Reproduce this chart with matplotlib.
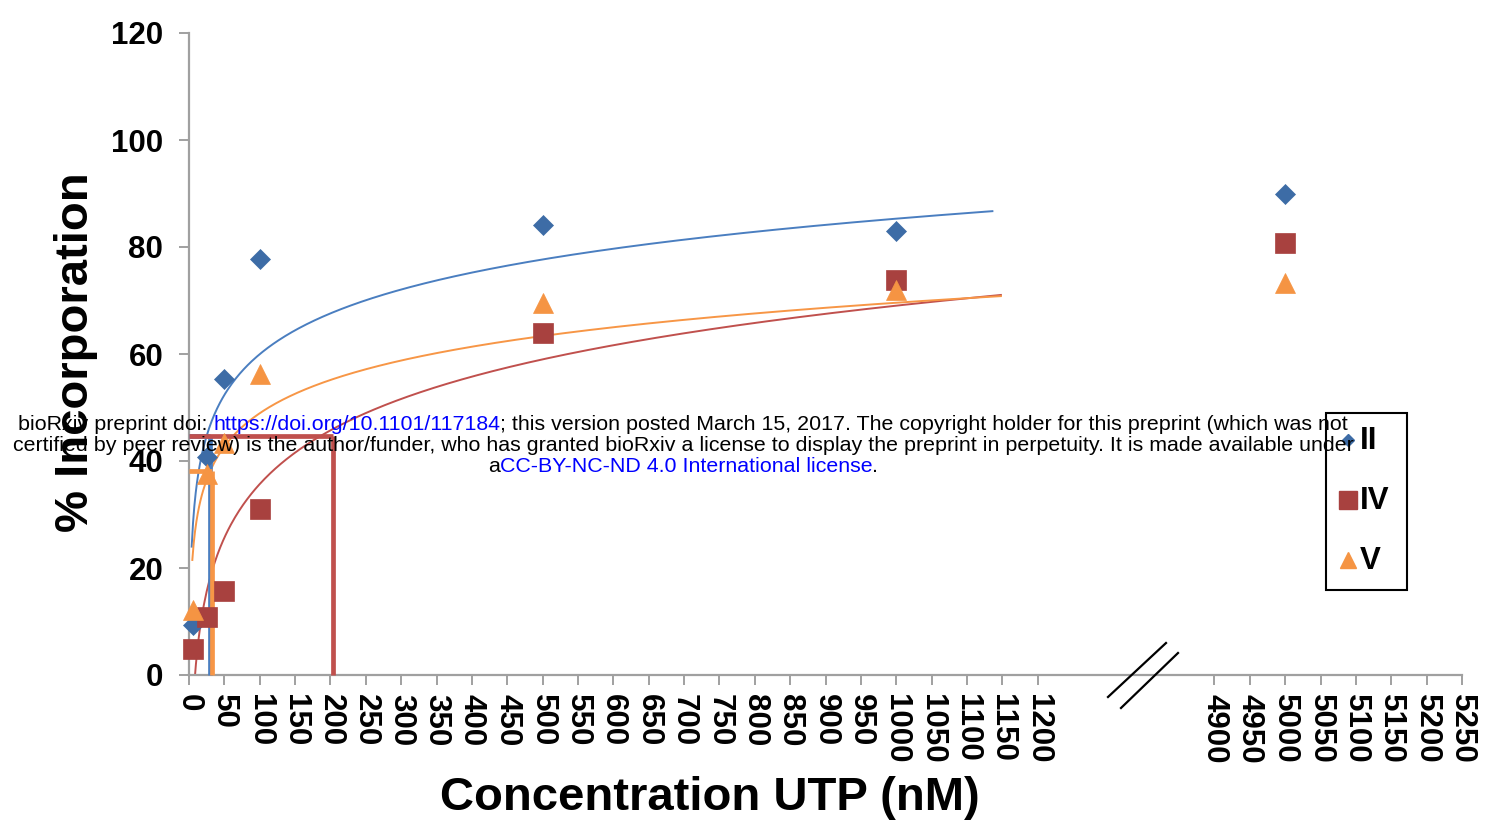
import numpy as np
import matplotlib
matplotlib.use("Agg")
import matplotlib.pyplot as plt
from matplotlib.lines import Line2D
from matplotlib.patches import Rectangle

plt.rcParams['font.family'] = ['Liberation Sans', 'DejaVu Sans']

# ---- data -------------------------------------------------------------
conc = [5, 25, 50, 100, 500, 1000, 5000]          # UTP concentration (nM)
series_names = ["II", "IV", "V"]
incorp_II = [9.3, 40.7, 55.3, 77.7, 84.1, 83.0, 89.9]
incorp_IV = [4.9, 10.8, 15.7, 31.0, 64.0, 73.8, 80.8]
incorp_V = [12.1, 37.5, 43.4, 56.3, 69.5, 72.0, 73.3]

# logarithmic trendlines y = a*ln(x) + b, drawn over [x_start, x_end]
trend_a = [11.0, 14.48, 8.97]
trend_b = [9.31, -30.99, 7.62]
trend_x_start = [3.8, 4.0, 4.7]
trend_x_end = [1136, 1148, 1148]

# half-maximal guide lines (x at half max, y of half max)
half_x = [29, 203.5, 32]
half_y = [44.7, 44.7, 38.1]

left_ticks = list(range(0, 1201, 50))
right_ticks = list(range(4900, 5251, 50))
y_ticks = list(range(0, 121, 20))

# ---- broken x axis mapping -------------------------------------------
BREAK_LO, BREAK_HI, RESUME = 1200, 4900, 1450


def xmap(x):
    x = np.asarray(x, dtype=float)
    return np.where(x <= BREAK_LO, x, x - BREAK_HI + RESUME)


marker_colors = ["#3D6CA6", "#A8413F", "#F59443"]
line_colors = ["#4A7EC0", "#C0504D", "#F79646"]
markers = ["D", "s", "^"]
msizes = [10.5, 14, 14.5]
leg_msizes = [6.5, 12.5, 11.5]
values = [incorp_II, incorp_IV, incorp_V]

W, H = 1485, 824
fig = plt.figure(figsize=(W / 100, H / 100), dpi=100)
ax = fig.add_axes([189 / W, 1 - 675 / H, (1462 - 189) / W, (675 - 33) / H])

# trendlines
for i in range(3):
    xs = np.linspace(trend_x_start[i], trend_x_end[i], 600)
    ys = trend_a[i] * np.log(xs) + trend_b[i]
    ax.plot(xmap(xs), ys, color=line_colors[i], lw=1.4, zorder=2)

# half-max guide lines (blue, orange, then red on top)
for i in [0, 2, 1]:
    ax.plot([0, half_x[i]], [half_y[i], half_y[i]], color=line_colors[i],
            lw=3.4, solid_capstyle='butt', zorder=3, clip_on=False)
    ax.plot([half_x[i], half_x[i]], [0, half_y[i]], color=line_colors[i],
            lw=3.4, solid_capstyle='butt', zorder=3, clip_on=False)

# data markers
for i in range(3):
    ax.plot(xmap(conc), values[i], linestyle='none', marker=markers[i],
            ms=msizes[i], color=marker_colors[i], mec=marker_colors[i],
            mew=0.5, zorder=5, clip_on=False)

ax.set_xlim(0, float(xmap(5250)))
ax.set_ylim(0, 120)

tick_pos = list(xmap(left_ticks)) + list(xmap(right_ticks))
tick_lab = [str(t) for t in left_ticks + right_ticks]
ax.set_xticks(tick_pos)
ax.set_xticklabels(tick_lab, rotation=-90, fontsize=22.5, fontweight='bold',
                   va='top', ha='center')
ax.set_yticks(y_ticks)
ax.set_yticklabels([str(t) for t in y_ticks], fontsize=22.5,
                   fontweight='bold')

spine_col = "#A0A0A0"
for s in ['top', 'right']:
    ax.spines[s].set_visible(False)
for s in ['left', 'bottom']:
    ax.spines[s].set_color(spine_col)
    ax.spines[s].set_linewidth(1.6)
ax.tick_params(axis='both', direction='out', length=7.5, width=1.4,
               color=spine_col)
ax.tick_params(axis='y', pad=11)
ax.tick_params(axis='x', pad=6.5)

# axis-break marks
for (x0, y0, x1, y1) in [(1108, 697, 1166, 643), (1121, 708, 1178, 653)]:
    fig.add_artist(Line2D([x0 / W, x1 / W], [1 - y0 / H, 1 - y1 / H],
                          color='black', lw=1.6))

# axis titles
fig.text(76 / W, 1 - 352 / H, "% Incorporation", rotation=90, fontsize=34,
         fontweight='bold', ha='center', va='center')
fig.text(710 / W, 1 - 798 / H, "Concentration UTP (nM)", fontsize=34,
         fontweight='bold', ha='center', va='center')

# legend box
fig.add_artist(Rectangle((1326 / W, 1 - 590 / H), 81 / W, 177 / H,
                         fill=False, edgecolor='black', lw=1.5, zorder=6))
leg_y = [440, 500, 560]
for i in range(3):
    fig.add_artist(Line2D([1348 / W], [1 - leg_y[i] / H], marker=markers[i],
                          ms=leg_msizes[i], color=marker_colors[i],
                          linestyle='none', zorder=7))
    fig.text(1360 / W, 1 - (leg_y[i] + 1) / H, series_names[i], fontsize=22.5,
             fontweight='bold', ha='left', va='center', zorder=7)

# preprint notice overlaid on the figure
link_blue = "#0000FF"
notice_lines = [
    [("bioRxiv preprint doi: ", "black"),
     ("https://doi.org/10.1101/117184", link_blue),
     ("; this version posted March 15, 2017. The copyright holder for this "
      "preprint (which was not", "black")],
    [("certified by peer review) is the author/funder, who has granted bioRxiv "
      "a license to display the preprint in perpetuity. It is made available "
      "under", "black")],
    [("a", "black"), ("CC-BY-NC-ND 4.0 International license", link_blue),
     (".", "black")],
]
notice_y = [424, 445, 467]
notice_size = 15.4
renderer = fig.canvas.get_renderer()


def text_width(s):
    t = fig.text(0, 0, s, fontsize=notice_size)
    w = t.get_window_extent(renderer).width
    t.remove()
    return w


wM = text_width("M")
for parts, yc in zip(notice_lines, notice_y):
    full = "".join(p for p, _ in parts)
    total = text_width(full)
    x_left = 683 - total / 2
    prefix = ""
    for s, c in parts:
        off = text_width(prefix + "M") - wM if prefix else 0.0
        fig.text((x_left + off) / W, 1 - yc / H, s, fontsize=notice_size,
                 color=c, ha='left', va='center', zorder=10)
        prefix += s

fig.savefig("out.png", dpi=100)
